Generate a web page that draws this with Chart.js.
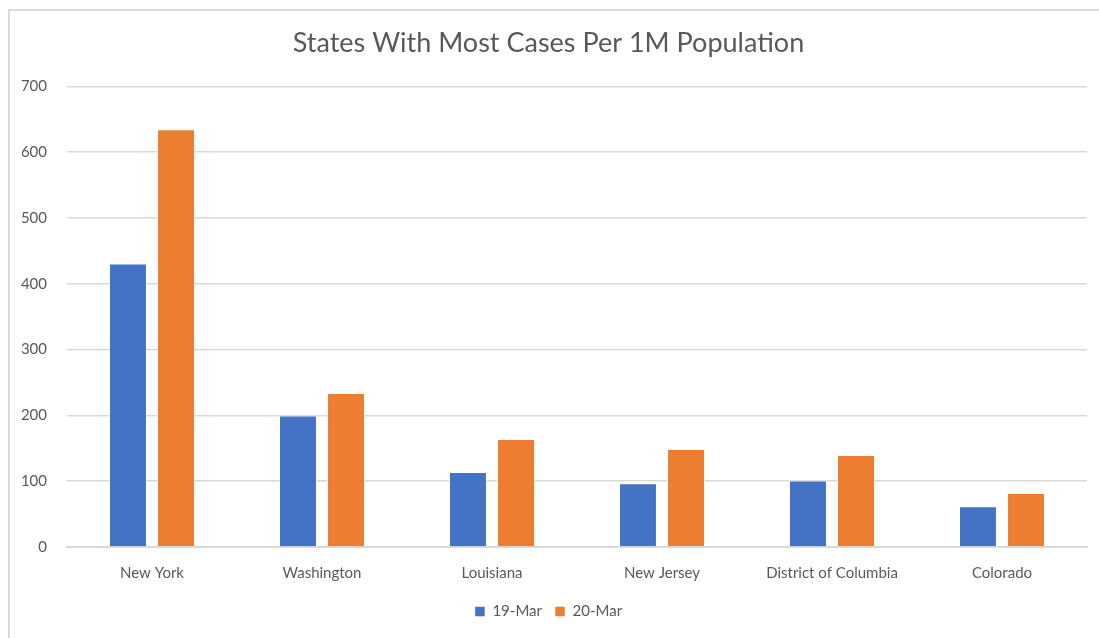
<!DOCTYPE html>
<html>
<head>
<meta charset="utf-8">
<script src="https://cdn.jsdelivr.net/npm/chart.js@4/dist/chart.umd.min.js"></script>
<style>
  html, body { margin: 0; padding: 0; background: #fff; overflow: hidden; }
  #frame {
    position: absolute; left: 8px; top: 9px; width: 1200px; height: 700px;
    border-top: 2px solid #d9d9d9; border-left: 2px solid #d9d9d9;
  }
  #wrap { position: absolute; left: 0; top: 0; width: 1099px; height: 638px; }
</style>
</head>
<body>
<div id="frame"></div>
<div id="wrap"><canvas id="myChart"></canvas></div>
<script>
const states = ['New York', 'Washington', 'Louisiana', 'New Jersey', 'District of Columbia', 'Colorado'];
const mar19 = [431, 200, 114, 97, 101, 62];
const mar20 = [635, 234, 164, 149, 140, 82];
const seriesNames = ['19-Mar', '20-Mar'];
const yTicks = [0, 100, 200, 300, 400, 500, 600, 700];

const textGray = '#595959';
const gridGray = '#d9d9d9';

const data = {
    labels: states,
    datasets: [{
        label: seriesNames[0],
        data: mar19,
        backgroundColor: '#4472C4',
        borderColor: 'rgba(255,255,255,0.5)',
        borderWidth: 1
    }, {
        label: seriesNames[1],
        data: mar20,
        backgroundColor: '#ED7D31',
        borderColor: 'rgba(255,255,255,0.5)',
        borderWidth: 1
    }]
};

const config = {
    type: 'bar',
    data: data,
    options: {
        responsive: true,
        maintainAspectRatio: false,
        animation: false,
        categoryPercentage: 0.565,
        barPercentage: 0.79,
        layout: { padding: { left: 10, right: 12, top: 0, bottom: 9 } },
        plugins: {
            title: {
                display: true,
                text: 'States With Most Cases Per 1M Population',
                color: textGray,
                font: { family: 'Lato', size: 27, weight: '400' },
                padding: { top: 27, bottom: 27 }
            },
            legend: {
                position: 'bottom',
                labels: {
                    color: textGray,
                    font: { family: 'Lato', size: 15 },
                    boxWidth: 10,
                    boxHeight: 10,
                    padding: 13
                }
            },
            tooltip: { enabled: false }
        },
        scales: {
            x: {
                grid: { display: false },
                border: { display: true, color: gridGray, width: 2 },
                ticks: {
                    color: textGray,
                    font: { family: 'Lato', size: 15 },
                    padding: 9,
                    maxRotation: 0
                }
            },
            y: {
                min: 0,
                max: 700,
                afterBuildTicks: function(scale) {
                    scale.ticks = yTicks.map(function(v){ return { value: v }; });
                },
                afterFit: function(scale) { scale.width = 57; },
                grid: { color: gridGray, lineWidth: 1.5, drawTicks: false },
                border: { display: false },
                ticks: {
                    color: textGray,
                    font: { family: 'Lato', size: 15 },
                    padding: 20
                }
            }
        }
    }
};

const myChart = new Chart(document.getElementById('myChart'), config);
</script>
</body>
</html>
